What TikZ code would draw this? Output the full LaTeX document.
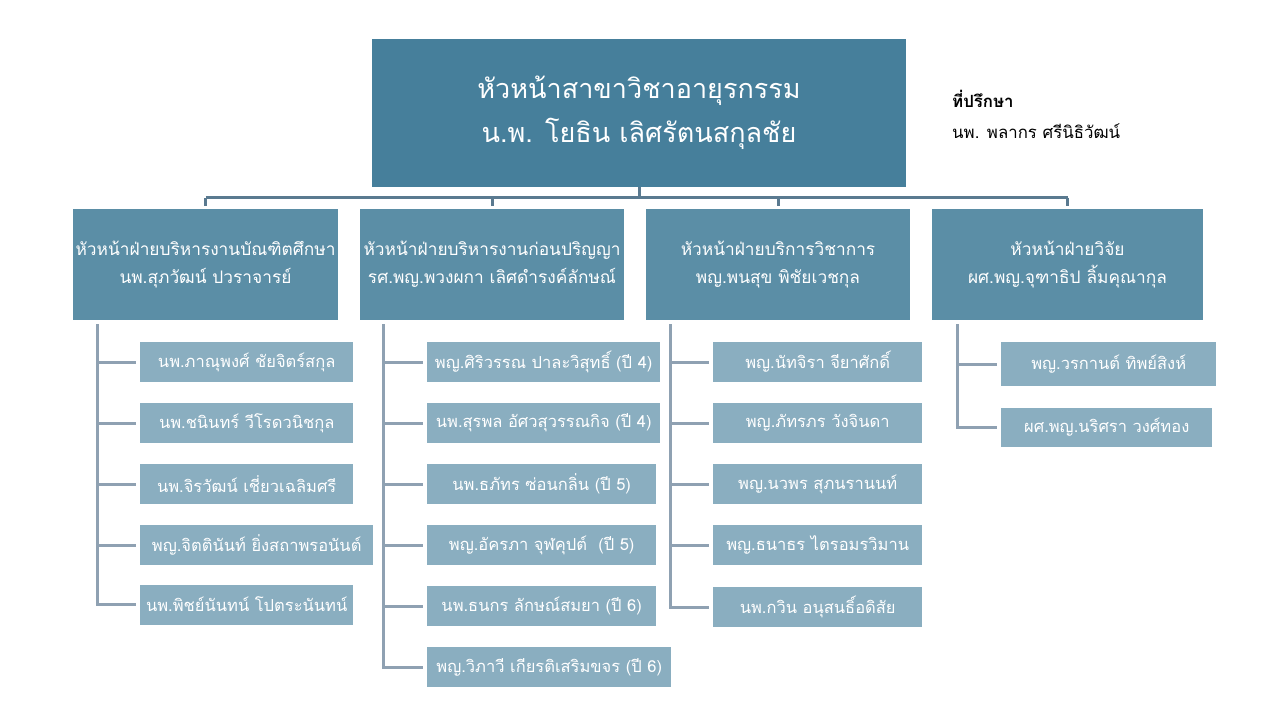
\documentclass[tikz,border=0pt]{standalone}
\usepackage{fontspec}
\newfontfamily\thaifont[Script=Thai]{Loma}
\usepackage{tikz}
\usetikzlibrary{positioning, calc}

\definecolor{headblue}{HTML}{467F9B}
\definecolor{divblue}{HTML}{5B8EA6}
\definecolor{memblue}{HTML}{8AAEC0}
\definecolor{trunkgray}{HTML}{5A7A90}
\definecolor{twiggray}{HTML}{8FA1B2}

\begin{document}
\begin{tikzpicture}[x=1pt, y=-1pt,
  headbox/.style={rectangle, fill=headblue, text=white, minimum width=534pt, minimum height=148pt, align=center, inner sep=0pt, font=\thaifont\fontsize{27}{44}\selectfont},
  divbox/.style={rectangle, fill=divblue, text=white, minimum height=111pt, align=center, inner sep=0pt, font=\thaifont\fontsize{17.3}{28}\selectfont},
  memb/.style={rectangle, fill=memblue, text=white, minimum height=40pt, inner sep=0pt, font=\thaifont\fontsize{16.5}{20}\selectfont},
  trunk/.style={draw=trunkgray, line width=3pt},
  twig/.style={draw=twiggray, line width=3pt}
]
\useasboundingbox (0,0) rectangle (1280,720);

% head and advisor
\node[headbox] (head) at (639, 113) {หัวหน้าสาขาวิชาอายุรกรรม\\น.พ. โยธิน เลิศรัตนสกุลชัย};
\node[anchor=north west, align=left, inner sep=0pt, font=\thaifont\fontsize{16.8}{31}\selectfont] (adv) at (952, 90) {\textbf{ที่ปรึกษา}\\นพ. พลากร ศรีนิธิวัฒน์};

% divisions
\node[divbox, minimum width=265pt] (div1) at (205.5, 264.5) {หัวหน้าฝ่ายบริหารงานบัณฑิตศึกษา\\นพ.สุภวัฒน์ ปวราจารย์};
\node[divbox, minimum width=264pt] (div2) at (492, 264.5) {หัวหน้าฝ่ายบริหารงานก่อนปริญญา\\รศ.พญ.พวงผกา เลิศดำรงค์ลักษณ์};
\node[divbox, minimum width=264pt] (div3) at (778, 264.5) {หัวหน้าฝ่ายบริการวิชาการ\\พญ.พนสุข พิชัยเวชกุล};
\node[divbox, minimum width=271pt] (div4) at (1067.5, 264.5) {หัวหน้าฝ่ายวิจัย\\ผศ.พญ.จุฑาธิป ลิ้มคุณากุล};

% graduate
\node[memb, anchor=west, minimum width=213pt] (a1) at (140, 362) {นพ.ภาณุพงศ์ ชัยจิตร์สกุล};
\node[memb, anchor=west, minimum width=213pt] (a2) at (140, 423) {นพ.ชนินทร์ วีโรดวนิชกุล};
\node[memb, anchor=west, minimum width=213pt] (a3) at (140, 484) {นพ.จิรวัฒน์ เชี่ยวเฉลิมศรี};
\node[memb, anchor=west, minimum width=233pt] (a4) at (140, 545) {พญ.จิตตินันท์ ยิ่งสถาพรอนันต์};
\node[memb, anchor=west, minimum width=213pt] (a5) at (140, 604.5) {นพ.พิชย์นันทน์ โปตระนันทน์};

% undergraduate
\node[memb, anchor=west, minimum width=233pt] (b1) at (427, 362) {พญ.ศิริวรรณ ปาละวิสุทธิ์ (ปี 4)};
\node[memb, anchor=west, minimum width=233pt] (b2) at (427, 423) {นพ.สุรพล อัศวสุวรรณกิจ (ปี 4)};
\node[memb, anchor=west, minimum width=229pt] (b3) at (427, 484) {นพ.ธภัทร ซ่อนกลิ่น (ปี 5)};
\node[memb, anchor=west, minimum width=229pt] (b4) at (427, 545) {พญ.อัครภา จุฬคุปต์ ~(ปี 5)};
\node[memb, anchor=west, minimum width=229pt] (b5) at (427, 606) {นพ.ธนกร ลักษณ์สมยา (ปี 6)};
\node[memb, anchor=west, minimum width=244pt] (b6) at (427, 667) {พญ.วิภาวี เกียรติเสริมขจร (ปี 6)};

% academic service
\node[memb, anchor=west, minimum width=209pt] (c1) at (713, 362) {พญ.นัทจิรา จียาศักดิ์};
\node[memb, anchor=west, minimum width=209pt] (c2) at (713, 423) {พญ.ภัทรภร วังจินดา};
\node[memb, anchor=west, minimum width=209pt] (c3) at (713, 484) {พญ.นวพร สุภนรานนท์};
\node[memb, anchor=west, minimum width=209pt] (c4) at (713, 545) {พญ.ธนาธร ไตรอมรวิมาน};
\node[memb, anchor=west, minimum width=209pt] (c5) at (713, 607) {นพ.กวิน อนุสนธิ์อดิสัย};

% research
\node[memb, anchor=west, minimum width=215pt, minimum height=44pt] (d1) at (1001, 364) {พญ.วรกานต์ ทิพย์สิงห์};
\node[memb, anchor=west, minimum width=211pt, minimum height=39pt] (d2) at (1001, 427.5) {ผศ.พญ.นริศรา วงศ์ทอง};

% head to divisions
\coordinate (bus) at (639, 197.5);
\draw[trunk] (head.south) -- (bus);
\draw[trunk] (div1.north |- bus) -- (div4.north |- bus);
\draw[trunk, shorten >=3pt] (div1.north |- bus) -- (div1.north);
\draw[trunk, shorten >=3pt] (div2.north |- bus) -- (div2.north);
\draw[trunk, shorten >=3pt] (div3.north |- bus) -- (div3.north);
\draw[trunk, shorten >=3pt] (div4.north |- bus) -- (div4.north);

% divisions to members
\draw[twig, shorten <=4pt, shorten >=4pt] ([xshift=25pt]div1.south west) |- (a5.west);
\draw[twig, shorten >=4pt] ([xshift=25pt]div1.south west |- a1.west) -- (a1.west);
\draw[twig, shorten >=4pt] ([xshift=25pt]div1.south west |- a2.west) -- (a2.west);
\draw[twig, shorten >=4pt] ([xshift=25pt]div1.south west |- a3.west) -- (a3.west);
\draw[twig, shorten >=4pt] ([xshift=25pt]div1.south west |- a4.west) -- (a4.west);

\draw[twig, shorten <=4pt, shorten >=4pt] ([xshift=24pt]div2.south west) |- (b6.west);
\draw[twig, shorten >=4pt] ([xshift=24pt]div2.south west |- b1.west) -- (b1.west);
\draw[twig, shorten >=4pt] ([xshift=24pt]div2.south west |- b2.west) -- (b2.west);
\draw[twig, shorten >=4pt] ([xshift=24pt]div2.south west |- b3.west) -- (b3.west);
\draw[twig, shorten >=4pt] ([xshift=24pt]div2.south west |- b4.west) -- (b4.west);
\draw[twig, shorten >=4pt] ([xshift=24pt]div2.south west |- b5.west) -- (b5.west);

\draw[twig, shorten <=4pt, shorten >=4pt] ([xshift=25pt]div3.south west) |- (c5.west);
\draw[twig, shorten >=4pt] ([xshift=25pt]div3.south west |- c1.west) -- (c1.west);
\draw[twig, shorten >=4pt] ([xshift=25pt]div3.south west |- c2.west) -- (c2.west);
\draw[twig, shorten >=4pt] ([xshift=25pt]div3.south west |- c3.west) -- (c3.west);
\draw[twig, shorten >=4pt] ([xshift=25pt]div3.south west |- c4.west) -- (c4.west);

\draw[twig, shorten <=4pt, shorten >=4pt] ([xshift=26pt]div4.south west) |- (d2.west);
\draw[twig, shorten >=4pt] ([xshift=26pt]div4.south west |- d1.west) -- (d1.west);

\end{tikzpicture}
\end{document}
